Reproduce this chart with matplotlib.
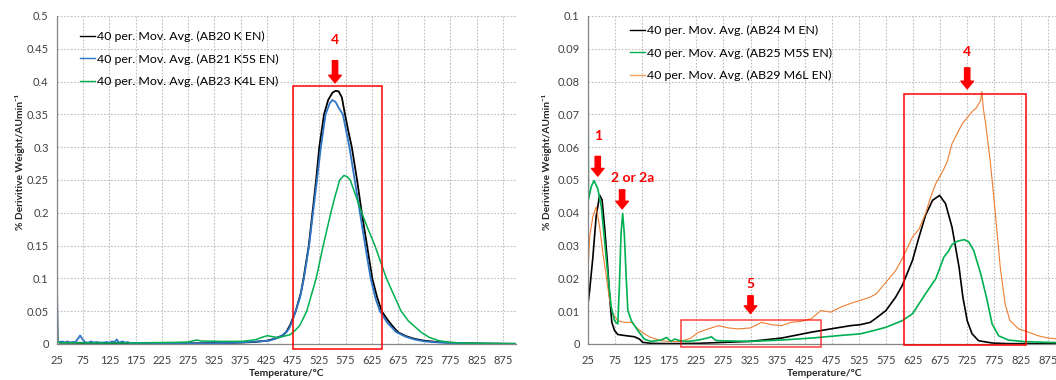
import matplotlib
matplotlib.use("Agg")
import matplotlib.pyplot as plt
from matplotlib.patches import Rectangle

plt.rcParams['font.family'] = ['Lato', 'DejaVu Sans']

# ---------------- data: left chart ----------------
left_black_T = [25, 26, 30, 50, 100, 150, 200, 250, 300, 350, 375, 400, 425, 440, 455, 462, 470, 480,
                490, 495, 505, 512, 519, 525, 534, 542, 550, 556, 562, 568, 574, 580, 587, 597, 606,
                616, 626, 635, 644, 655, 665, 675, 690, 706, 725, 750, 775, 800, 850, 900]
left_black_v = [0.08, 0.004, 0.002, 0.002, 0.0015, 0.001, 0.001, 0.001, 0.0012, 0.0015, 0.0022, 0.003,
                0.005, 0.008, 0.013, 0.018, 0.03, 0.05, 0.078, 0.1, 0.15, 0.2, 0.25, 0.3, 0.35, 0.372,
                0.383, 0.386, 0.385, 0.376, 0.35, 0.326, 0.3, 0.25, 0.2, 0.15, 0.1, 0.072, 0.05, 0.037,
                0.027, 0.018, 0.012, 0.008, 0.005, 0.003, 0.002, 0.0012, 0.0006, 0.0003]

left_blue_T = [25, 26, 30, 35, 40, 45, 50, 55, 60, 65, 69, 73, 78, 85, 90, 95, 100, 110, 120, 125, 130,
               135, 139, 143, 150, 155, 160, 165, 200, 250, 300, 350, 378, 400, 429, 445, 454, 462, 467,
               472, 480, 488, 495.6, 505.6, 513, 520.6, 528, 537, 545, 550, 556, 562, 570, 582.5, 592.5,
               602.5, 612.5, 623, 632, 640.6, 655, 672, 690, 706, 725, 750, 775, 800, 850, 900]
left_blue_v = [0.106, 0.004, 0.003, 0.004, 0.002, 0.004, 0.002, 0.003, 0.003, 0.008, 0.013, 0.008, 0.003,
               0.002, 0.004, 0.002, 0.003, 0.002, 0.003, 0.002, 0.004, 0.003, 0.007, 0.002, 0.004, 0.002,
               0.003, 0.001, 0.0008, 0.001, 0.001, 0.0015, 0.0025, 0.0035, 0.005, 0.009, 0.013, 0.018,
               0.023, 0.032, 0.05, 0.07, 0.1, 0.15, 0.2, 0.25, 0.3, 0.35, 0.367, 0.372, 0.369, 0.36, 0.35,
               0.3, 0.25, 0.2, 0.15, 0.1, 0.07, 0.05, 0.032, 0.018, 0.011, 0.007, 0.004, 0.0025, 0.0015,
               0.001, 0.0005, 0.0003]

left_green_T = [25, 26, 30, 100, 150, 200, 250, 275, 285, 292, 300, 340, 378, 404, 415, 426, 437, 448,
                458, 469, 478, 487.5, 495, 501, 510, 519, 532.5, 547, 555, 564, 572, 578, 584, 595, 606,
                618, 631, 642, 653, 667, 681, 695, 719, 735, 753, 775, 800, 850, 900]
left_green_v = [0.048, 0.003, 0.002, 0.0015, 0.0015, 0.002, 0.0025, 0.003, 0.005, 0.006, 0.0045, 0.004,
                0.004, 0.0066, 0.01, 0.0127, 0.011, 0.0096, 0.012, 0.014, 0.02, 0.028, 0.04, 0.05, 0.075,
                0.1, 0.15, 0.2, 0.225, 0.25, 0.257, 0.255, 0.25, 0.225, 0.2, 0.175, 0.15, 0.125, 0.1,
                0.075, 0.05, 0.035, 0.018, 0.01, 0.005, 0.0025, 0.0015, 0.0008, 0.0004]

left_labels = ["40 per. Mov. Avg. (AB20 K EN)", "40 per. Mov. Avg. (AB21 K5S EN)",
               "40 per. Mov. Avg. (AB23 K4L EN)"]

# ---------------- data: right chart ----------------
right_black_T = [25, 28, 34, 40, 46.5, 51, 55.6, 60.5, 65, 69, 74, 80, 92, 111, 120, 126, 141, 175, 229,
                 275, 325, 382, 437, 473, 510, 528, 546, 557, 575, 593, 605, 624, 636, 648, 661, 674, 685,
                 697, 710, 717, 725, 734, 746, 771, 800, 900]
right_black_v = [0.0122, 0.0163, 0.0265, 0.0388, 0.0454, 0.0439, 0.0357, 0.0255, 0.0143, 0.0066, 0.0041,
                 0.0029, 0.0026, 0.0022, 0.0015, 0.0005, 0.0002, 0.0001, 0.0002, 0.0005, 0.0008, 0.0018,
                 0.0036, 0.0046, 0.0056, 0.0059, 0.0066, 0.0079, 0.0102, 0.0143, 0.0178, 0.0255, 0.0326,
                 0.0392, 0.0438, 0.0453, 0.0428, 0.0356, 0.0234, 0.0143, 0.0071, 0.0031, 0.001, 0.0003,
                 0.0001, 0.0001]

right_green_T = [25, 25.8, 31, 36, 43, 49.5, 55.6, 62, 68, 74, 80, 83, 86, 89, 92, 95.5, 98.6, 105, 117,
                 129, 141, 160, 170, 178, 185, 195, 210, 229, 245, 253, 260, 266, 325, 382, 437, 491, 528,
                 557, 575, 605, 624, 648, 667, 682, 690, 697, 705, 713, 720, 728, 737, 750, 762, 771, 783,
                 801, 832, 875, 900]
right_green_v = [0.097, 0.044, 0.048, 0.0498, 0.0474, 0.042, 0.0316, 0.0204, 0.0112, 0.0071, 0.0061,
                 0.018, 0.0337, 0.0398, 0.0337, 0.0204, 0.0102, 0.0071, 0.0041, 0.0015, 0.0008, 0.0012,
                 0.002, 0.0008, 0.0015, 0.001, 0.0008, 0.0012, 0.0018, 0.0022, 0.0012, 0.001, 0.0008,
                 0.0012, 0.0018, 0.0026, 0.0031, 0.0043, 0.0051, 0.0071, 0.0092, 0.0153, 0.0199, 0.0265,
                 0.0282, 0.0303, 0.0312, 0.0316, 0.0318, 0.0311, 0.0285, 0.0214, 0.0132, 0.0061, 0.0025,
                 0.0012, 0.0007, 0.0005, 0.0004]

right_orange_T = [25, 25.8, 28, 34, 40, 46.5, 52.6, 59, 65, 71, 80, 92, 105, 117, 129, 141, 160, 178, 197,
                  215, 229, 247, 266, 284, 302, 325, 345, 363, 382, 400, 418, 437, 455, 473, 491, 510, 528,
                  546, 557, 575, 593, 605, 624, 636, 648, 657, 667, 679, 688, 697, 706, 716, 725, 734, 742,
                  750, 752, 755, 759, 768, 777, 786, 795, 804, 820, 838, 856, 875, 900]
right_orange_v = [0.12, 0.0244, 0.0327, 0.0388, 0.0418, 0.0357, 0.0276, 0.0204, 0.0133, 0.0092, 0.0071,
                  0.0066, 0.0066, 0.0046, 0.0031, 0.002, 0.001, 0.0007, 0.0008, 0.0018, 0.0036, 0.0046,
                  0.0056, 0.0049, 0.0046, 0.0049, 0.0066, 0.0059, 0.0056, 0.0066, 0.0069, 0.0077, 0.0102,
                  0.0097, 0.0112, 0.0124, 0.0133, 0.0143, 0.0153, 0.0188, 0.0224, 0.026, 0.0326, 0.035,
                  0.0397, 0.0445, 0.0489, 0.0524, 0.0555, 0.0611, 0.064, 0.0672, 0.069, 0.0708, 0.072,
                  0.0743, 0.077, 0.0715, 0.0672, 0.055, 0.0397, 0.0234, 0.0122, 0.0071, 0.0046, 0.0036,
                  0.0025, 0.0018, 0.0014]

right_labels = ["40 per. Mov. Avg. (AB24 M EN)", "40 per. Mov. Avg. (AB25 M5S EN)",
                "40 per. Mov. Avg. (AB29 M6L EN)"]

x_ticks = list(range(25, 876, 50))
left_yticks = [0, 0.05, 0.1, 0.15, 0.2, 0.25, 0.3, 0.35, 0.4, 0.45, 0.5]
left_yticklabels = ["0", "0.05", "0.1", "0.15", "0.2", "0.25", "0.3", "0.35", "0.4", "0.45", "0.5"]
right_yticks = [0, 0.01, 0.02, 0.03, 0.04, 0.05, 0.06, 0.07, 0.08, 0.09, 0.1]
right_yticklabels = ["0", "0.01", "0.02", "0.03", "0.04", "0.05", "0.06", "0.07", "0.08", "0.09", "0.1"]

# ---------------- figure ----------------
W, H = 1056, 380
fig = plt.figure(figsize=(W / 100, H / 100), dpi=100)

def px_axes(x0, x1, ytop, ybot):
    return fig.add_axes([x0 / W, 1 - ybot / H, (x1 - x0) / W, (ybot - ytop) / H])

axL = px_axes(57, 516, 16, 344)
axR = px_axes(588, 1062, 16, 344)

BLACK = "#000000"
BLUE = "#2E75C6"
GREEN = "#00B050"
ORANGE = "#ED7D31"
RED = "#FF0000"

def style(ax, yticks, ylabels, ymax, ylab_x):
    ax.set_xlim(25, 900)
    ax.set_ylim(0, ymax)
    ax.set_xticks(x_ticks)
    ax.set_xticklabels([str(t) for t in x_ticks])
    ax.set_yticks(yticks)
    ax.set_yticklabels(ylabels)
    ax.grid(True, which='major', color='#BFBFBF', linestyle=(0, (1.5, 1.5)), linewidth=0.8)
    ax.set_axisbelow(True)
    for s in ['top', 'right']:
        ax.spines[s].set_visible(False)
    for s in ['left', 'bottom']:
        ax.spines[s].set_color('#868686')
        ax.spines[s].set_linewidth(0.9)
    ax.tick_params(axis='both', length=0, labelsize=8, colors='#404040', pad=6)
    ax.tick_params(axis='x', pad=8)
    ax.set_xlabel("Temperature/°C", fontsize=7.4, fontweight='bold', color='#262626', labelpad=2)
    ax.set_ylabel("% Derivitive Weight/AUmin\u207b\u00b9", fontsize=7.4, fontweight='bold',
                  color='#262626')
    ax.yaxis.set_label_coords(ylab_x, 0.555)

leg_kw = dict(loc='upper left', frameon=False, fontsize=8.9, handlelength=1.25, handletextpad=0.1,
              labelspacing=0.94, borderpad=0, borderaxespad=0)

# Left chart
l1, = axL.plot(left_black_T, left_black_v, color=BLACK, lw=1.3)
l2, = axL.plot(left_blue_T, left_blue_v, color=BLUE, lw=1.3)
l3, = axL.plot(left_green_T, left_green_v, color=GREEN, lw=1.1)
style(axL, left_yticks, left_yticklabels, 0.5, -0.07)
legL = axL.legend([l1, l2, l3], left_labels, bbox_to_anchor=(80 / W, 1 - 31 / H),
                  bbox_transform=fig.transFigure, **leg_kw)
for h in legL.get_lines():
    h.set_linewidth(1.0)

axL.add_patch(Rectangle((475, -0.007), 645 - 475, 0.394 + 0.007, fill=False, edgecolor=RED,
                        linewidth=1.1, clip_on=False, zorder=5))

arrow_kw = dict(facecolor=RED, edgecolor=RED, width=3.8, headwidth=9, headlength=5.5, shrink=0)

def red_arrow(ax, x, y0, y1, label=None, ylab=None, xlab=None):
    ax.annotate('', xy=(x, y1), xytext=(x, y0), arrowprops=arrow_kw, annotation_clip=False, zorder=6)
    if label is not None:
        ax.text(x if xlab is None else xlab, ylab, label, color=RED, fontsize=10, fontweight='bold',
                ha='center', va='center', zorder=6)

red_arrow(axL, 555, 0.432, 0.398, "4", 0.463)

# Right chart
r1, = axR.plot(right_black_T, right_black_v, color=BLACK, lw=1.2)
r3, = axR.plot(right_orange_T, right_orange_v, color=ORANGE, lw=0.8)
r2, = axR.plot(right_green_T, right_green_v, color=GREEN, lw=1.2)
style(axR, right_yticks, right_yticklabels, 0.1, -0.075)
legR = axR.legend([r1, r2, r3], right_labels, bbox_to_anchor=(630 / W, 1 - 25 / H),
                  bbox_transform=fig.transFigure, **leg_kw)
for h in legR.get_lines():
    h.set_linewidth(1.0)
legR.get_lines()[2].set_color("#F4A460")

axR.add_patch(Rectangle((609, -0.0003), 834 - 609, 0.0762 + 0.0003, fill=False, edgecolor=RED,
                        linewidth=1.1, clip_on=False, zorder=5))
axR.add_patch(Rectangle((197, -0.001), 455 - 197, 0.0073 + 0.001, fill=False, edgecolor=RED,
                        alpha=0.75, linewidth=1.1, clip_on=False, zorder=5))

red_arrow(axR, 725, 0.0842, 0.0778, "4", 0.089)
red_arrow(axR, 43, 0.0572, 0.0512, "1", 0.0633)
red_arrow(axR, 88, 0.047, 0.0412, "2 or 2a", 0.0505, xlab=108)
red_arrow(axR, 325, 0.0147, 0.0093, "5", 0.0183)

fig.savefig("out.png", dpi=100)
